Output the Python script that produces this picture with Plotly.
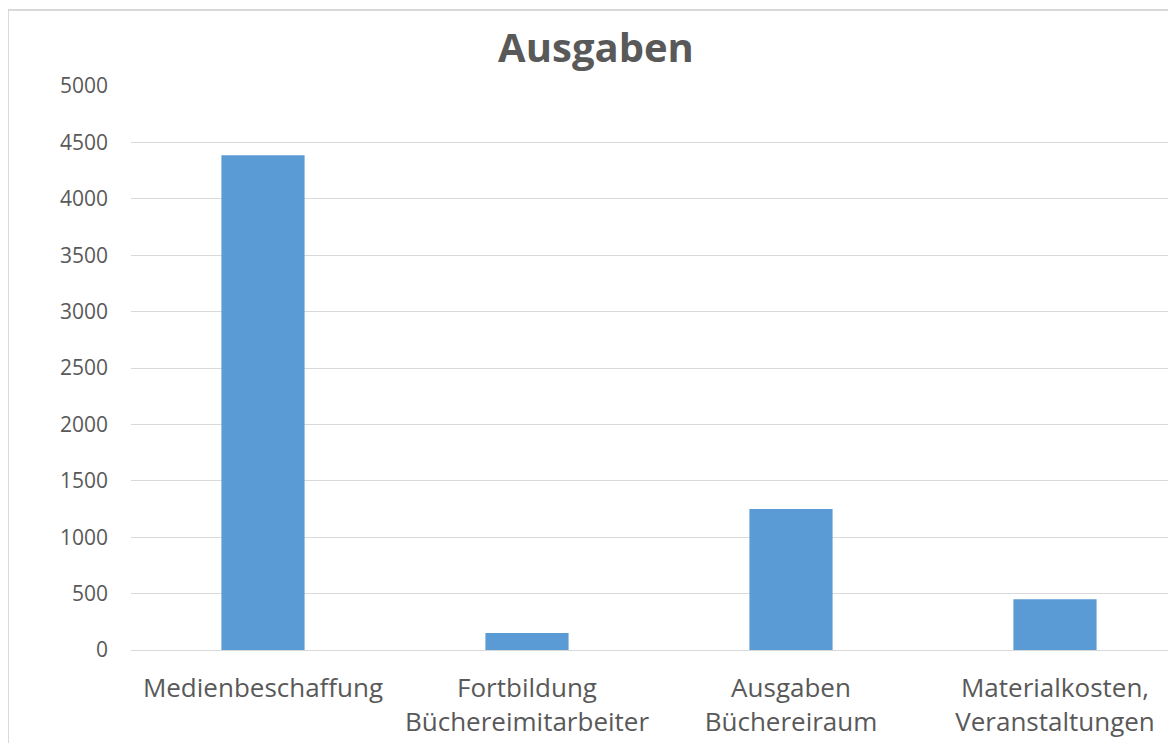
import plotly.graph_objects as go

categories = ["Medienbeschaffung", "Fortbildung<br>Büchereimitarbeiter", "Ausgaben<br>Büchereiraum", "Materialkosten,<br>Veranstaltungen"]
values = [4385, 150, 1250, 450]
y_ticks = [0, 500, 1000, 1500, 2000, 2500, 3000, 3500, 4000, 4500, 5000]

OFF = 8  # page body margin
W, H = 1176 - OFF, 751 - 2 * OFF
L, T = 131 - OFF, 86 - OFF
R = 0
B = H - (650 - OFF)
pw = W - L - R
ph = H - T - B

fig = go.Figure(go.Bar(x=list(range(len(categories))), y=values,
                       marker=dict(color="#5B9BD5", line=dict(width=0)), width=0.315))

fig.update_layout(
    width=W, height=H,
    margin=dict(l=L, r=R, t=T, b=B, pad=0),
    paper_bgcolor="white", plot_bgcolor="white",
    font=dict(family="Open Sans", color="#595959"),
    title=dict(text="<b>Ausgaben</b>", x=(596 - OFF) / W, xref="container", xanchor="center",
               y=1 - (48 - OFF) / H, yref="container", yanchor="middle",
               font=dict(size=40, color="#595959", family="Open Sans")),
    showlegend=False,
)
fig.update_xaxes(
    range=[-0.5, -0.5 + pw / 264.0],
    tickmode="array", tickvals=list(range(len(categories))), ticktext=categories,
    tickfont=dict(size=26, color="#595959"), showgrid=False, showline=False, ticks="",
    ticklabelstandoff=20,
)
fig.update_yaxes(
    range=[0, 5000], tickmode="array", tickvals=y_ticks,
    tickfont=dict(size=21, color="#595959"),
    showgrid=True, gridcolor="#D9D9D9", gridwidth=1.3,
    zeroline=True, zerolinecolor="#D9D9D9", zerolinewidth=1.3,
    showline=False, ticks="", ticklabelstandoff=22,
)
# chart frame
fig.add_shape(type="rect", xref="paper", yref="paper",
              x0=(8 - 131) / pw, x1=(1176 + 20 - 131) / pw,
              y0=-(751 + 20 - 650) / ph, y1=(650 - 10) / ph,
              line=dict(color="#D9D9D9", width=2), fillcolor="rgba(0,0,0,0)", layer="below")

fig.write_html("out.html")
